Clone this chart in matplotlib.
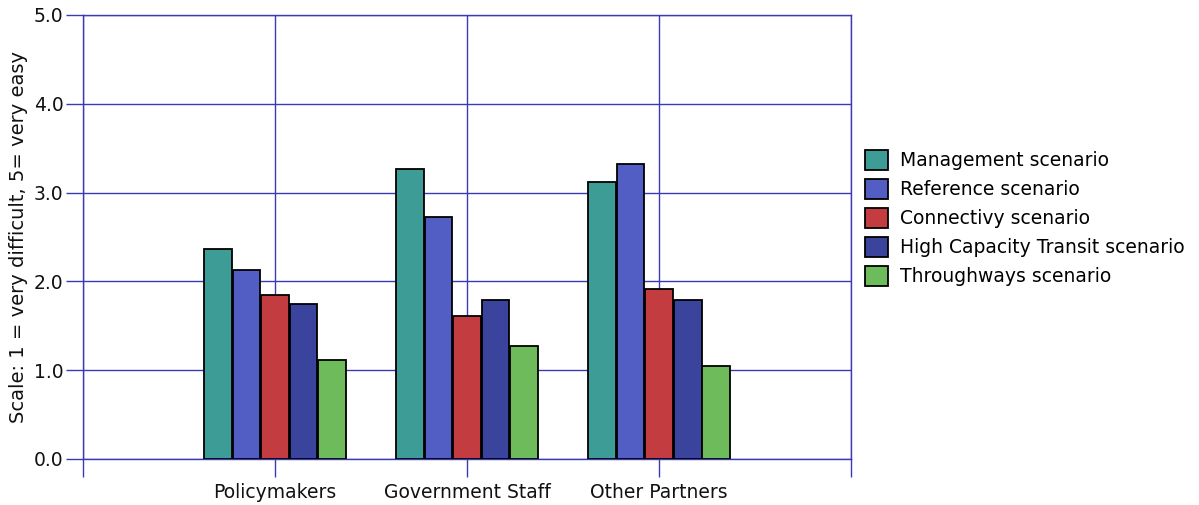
import matplotlib.pyplot as plt
import numpy as np

groups = ["Policymakers", "Government Staff", "Other Partners"]
scenarios = [
    "Management scenario",
    "Reference scenario",
    "Connectivy scenario",
    "High Capacity Transit scenario",
    "Throughways scenario",
]
management = [2.36, 3.27, 3.12]
reference = [2.13, 2.72, 3.32]
connectivity = [1.85, 1.61, 1.92]
high_capacity = [1.74, 1.79, 1.79]
throughways = [1.12, 1.27, 1.05]

colors = ["#3e9c97", "#535ec4", "#c33c40", "#3b449c", "#6dbb5a"]
grid_color = "#3a3ab4"

series = [management, reference, connectivity, high_capacity, throughways]

fig = plt.figure(figsize=(11.99, 5.05), dpi=100)
ax = fig.add_axes([0.0692, 0.0911, 0.6406, 0.8792])

x = np.arange(1, len(groups) + 1)
width = 0.149
for i, (vals, name) in enumerate(zip(series, scenarios)):
    offset = (i - 2) * width
    ax.bar(x + offset, vals, width=width * 0.97, color=colors[i],
           edgecolor="black", linewidth=1.3, label=name, zorder=3)

ax.set_xlim(0, 4)
ax.set_ylim(0, 5)
ax.set_xticks(range(0, 5))
ax.set_xticklabels([""] + groups + [""])
ax.set_yticks(range(0, 6))
ax.set_yticklabels([f"{v:.1f}" for v in range(0, 6)])

ax.grid(True, color=grid_color, linewidth=1.0, zorder=0)
ax.set_axisbelow(True)
for s in ax.spines.values():
    s.set_color(grid_color)
    s.set_linewidth(1.0)

ax.tick_params(axis="x", length=13, width=1.0, color=grid_color,
               pad=4, labelsize=13.5, labelcolor="#111111")
ax.tick_params(axis="y", length=12, width=1.0, color=grid_color,
               pad=2, labelsize=13.5, labelcolor="#111111")

ax.set_ylabel("Scale: 1 = very difficult, 5= very easy", fontsize=14,
              color="#111111", labelpad=4)

fig.legend(loc="upper left", bbox_to_anchor=(0.7214, 0.703), frameon=False,
           fontsize=13.5, handlelength=1.25, handleheight=1.3,
           handletextpad=0.62, labelspacing=0.45, borderpad=0,
           borderaxespad=0)

fig.savefig("out.png", dpi=100)
